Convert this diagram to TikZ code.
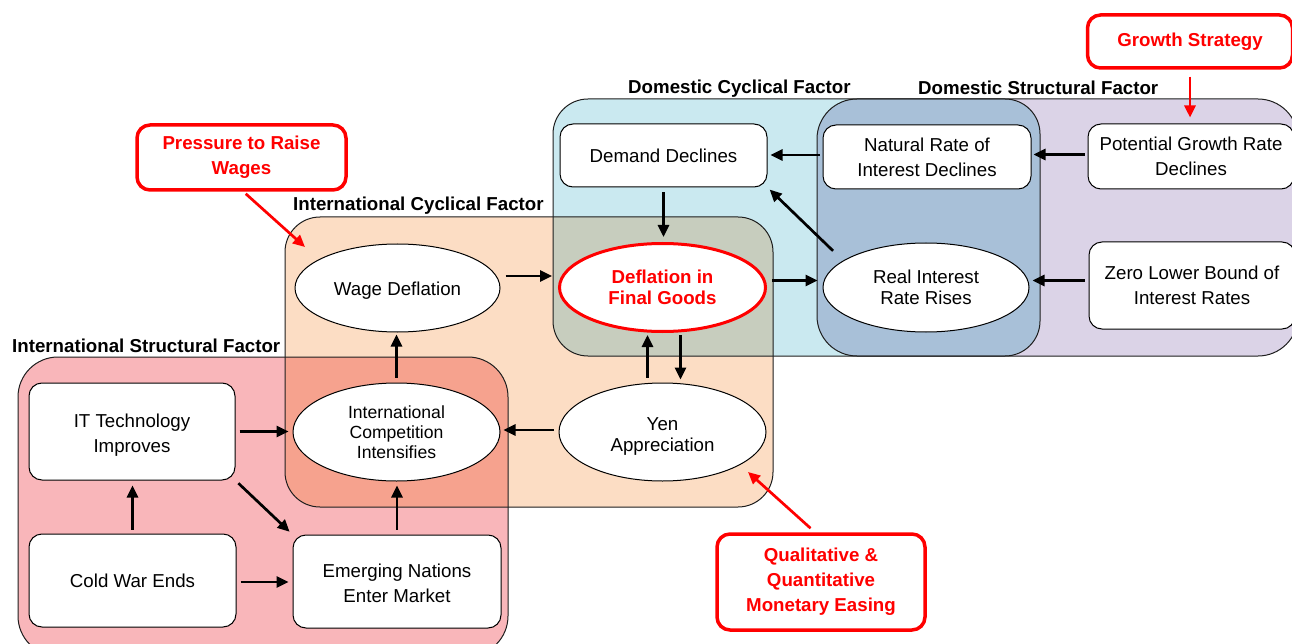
\documentclass[tikz,border=0pt]{standalone}
\usepackage{fontspec}
\setmainfont{Liberation Sans}
\usetikzlibrary{shapes.geometric,arrows.meta}
\definecolor{pinkc}{RGB}{249,182,186}
\definecolor{peachc}{RGB}{252,221,196}
\definecolor{bluec}{RGB}{202,233,240}
\definecolor{purplec}{RGB}{219,211,231}
\definecolor{pinkpeach}{RGB}{246,162,142}
\definecolor{peachblue}{RGB}{199,205,190}
\definecolor{bluepurple}{RGB}{168,192,216}
\definecolor{redc}{RGB}{255,0,0}
\definecolor{linec}{RGB}{30,30,30}
\begin{document}
\begin{tikzpicture}[x=1pt,y=-1pt,
  font=\fontsize{18.7}{25}\selectfont,
  box/.style={draw=black, line width=1pt, fill=white, rounded corners=13pt, align=center, inner sep=0pt},
  ell/.style={draw=black, line width=1pt, fill=white, ellipse, align=center, inner sep=0pt},
  callout/.style={draw=redc, line width=3.5pt, fill=white, rounded corners=13pt, text=redc,
    font=\fontsize{18.7}{25}\selectfont\bfseries, align=center, inner sep=0pt},
  arr/.style={draw=black, line width=2.7pt, -{Triangle[length=12pt,width=11pt]}},
  redarr/.style={draw=redc, line width=2.7pt, -{Triangle[length=12pt,width=11pt]}},
  grplabel/.style={font=\fontsize{18.7}{22}\selectfont\bfseries, anchor=west, inner sep=0pt},
  grpline/.style={draw=linec, line width=1pt}]
\useasboundingbox (0,0) rectangle (1292,644);
\fill[white] (0,0) rectangle (1292,644);

% group fills
\fill[pinkc, rounded corners=40pt] (18,357) rectangle (508,656);
\fill[peachc, rounded corners=35pt] (285,217) rectangle (773,507);
\fill[bluec, rounded corners=35pt] (553,99) rectangle (1040,356);
\fill[purplec, rounded corners=40pt] (817,99) rectangle (1298,356);
% overlaps
\begin{scope}
  \clip[rounded corners=40pt] (18,357) rectangle (508,656);
  \fill[pinkpeach, rounded corners=35pt] (285,217) rectangle (773,507);
\end{scope}
\begin{scope}
  \clip[rounded corners=35pt] (285,217) rectangle (773,507);
  \fill[peachblue, rounded corners=35pt] (553,99) rectangle (1040,356);
\end{scope}
\begin{scope}
  \clip[rounded corners=35pt] (553,99) rectangle (1040,356);
  \fill[bluepurple, rounded corners=40pt] (817,99) rectangle (1298,356);
\end{scope}
% outlines
\draw[grpline, rounded corners=40pt] (18,357) rectangle (508,656);
\draw[grpline, rounded corners=35pt] (285,217) rectangle (773,507);
\draw[grpline, rounded corners=35pt] (553,99) rectangle (1040,356);
\draw[grpline, rounded corners=40pt] (817,99) rectangle (1298,356);

% group labels
\node[grplabel] (lisf) at (12,346) {International Structural Factor};
\node[grplabel] (licf) at (293,206) {International Cyclical Factor};
\node[grplabel] (ldcf) at (628,89) {Domestic Cyclical Factor};
\node[grplabel] (ldsf) at (918,88) {Domestic Structural Factor};

% boxes
\node[box, minimum width=206pt, minimum height=97pt, text height=45.5pt] (it) at (132,431.5) {IT Technology\\Improves};
\node[box, minimum width=207pt, minimum height=93pt] (cold) at (132.5,580.5) {Cold War Ends};
\node[box, minimum width=208pt, minimum height=93pt, text height=42.4pt] (emerg) at (397,581.5) {Emerging Nations\\Enter Market};
\node[box, minimum width=207pt, minimum height=63pt] (demand) at (663.5,155.5) {Demand Declines};
\node[box, minimum width=208pt, minimum height=64pt] (natural) at (927,157) {Natural Rate of\\Interest Declines};
\node[box, minimum width=206pt, minimum height=65pt] (potential) at (1191,156.5) {Potential Growth Rate\\Declines};
\node[box, minimum width=206pt, minimum height=87pt] (zero) at (1192,285.5) {Zero Lower Bound of\\Interest Rates};

% ellipses
\node[ell, minimum width=205pt, minimum height=88pt, text height=18.5pt] (wage) at (397.5,288) {Wage Deflation};
\node[ell, draw=redc, line width=3pt, minimum width=206pt, minimum height=88pt, text=redc,
  font=\fontsize{18.7}{21}\selectfont\bfseries] (defl) at (662.5,287.5) {Deflation in\\Final Goods};
\node[ell, minimum width=206pt, minimum height=89pt, font=\fontsize{18.7}{21}\selectfont] (real) at (926,287.5) {Real Interest\\Rate Rises};
\node[ell, minimum width=207pt, minimum height=98pt, font=\fontsize{17.6}{20}\selectfont] (intl) at (396.5,432) {International\\Competition\\Intensifies};
\node[ell, minimum width=207pt, minimum height=98pt, font=\fontsize{18.7}{21.5}\selectfont, text height=42.9pt] (yen) at (662.5,432) {Yen\\Appreciation};

% callouts
\node[callout, minimum width=205pt, minimum height=53pt] (growth) at (1190,41.5) {Growth Strategy};
\node[callout, minimum width=209pt, minimum height=65pt] (pressure) at (241.5,157.5) {Pressure to Raise\\Wages};
\node[callout, minimum width=208pt, minimum height=96pt] (qqe) at (821,582) {Qualitative \&\\Quantitative\\Monetary Easing};

\coordinate (pw) at (305,247);
\coordinate (qq) at (748,472);

% black arrows
\draw[arr, shorten <=4pt, shorten >=5pt] (cold.north) -- (cold.north |- it.south);
\draw[arr, shorten <=4pt, shorten >=4pt] (it.south east) -- (emerg.north west);
\draw[arr, shorten <=4pt, shorten >=4pt] ([yshift=-1.5pt]cold.east) -- ([yshift=-1.5pt]cold.east -| emerg.west);
\draw[arr, shorten <=4pt, shorten >=4pt] (it.east) -- (it.east -| intl.west);
\draw[arr, shorten <=5pt, shorten >=4pt] (emerg.north) -- (emerg.north |- intl.south);
\draw[arr, shorten <=5pt, shorten >=2pt] (intl.north) -- (intl.north |- wage.south);
\draw[arr, shorten <=5pt, shorten >=6pt] ([yshift=12pt]wage.east) -- ([yshift=12pt]wage.east -| defl.west);
\draw[arr, shorten <=5pt, shorten >=3pt] ([yshift=2pt]yen.west) -- ([yshift=2pt]yen.west -| intl.east);
\draw[arr, shorten <=5pt, shorten >=2pt] ([xshift=-15pt]yen.north) -- ([xshift=-15pt]defl.south);
\draw[arr, shorten <=2pt, shorten >=3pt] ([xshift=18pt]defl.south) -- ([xshift=18pt]yen.north);
\draw[arr, shorten <=5pt, shorten >=5pt] (demand.south) -- (demand.south |- defl.north);
\draw[arr, shorten <=5pt, shorten >=5pt] ([yshift=7pt]defl.east) -- ([yshift=7pt]defl.east -| real.west);
\draw[arr, shorten <=14pt, shorten >=3pt] (real.162) -- (demand.south east);
\draw[arr, shorten <=3pt, shorten >=3pt] ([yshift=2pt]natural.west) -- ([yshift=2pt]natural.west -| demand.east);
\draw[arr, shorten <=3pt, shorten >=2pt] ([yshift=2pt]potential.west) -- ([yshift=2pt]potential.west -| natural.east);
\draw[arr, shorten <=4pt, shorten >=3pt] ([yshift=5pt]zero.west) -- ([yshift=5pt]zero.west -| real.east);

% red arrows
\draw[redarr, shorten <=7pt, shorten >=6pt] (growth.south) -- (growth.south |- potential.north);
\draw[redarr, shorten <=3pt] ([xshift=2pt]pressure.south) -- (pw);
\draw[redarr, shorten <=6pt] ([xshift=-6pt]qqe.north) -- (qq);
\end{tikzpicture}
\end{document}
